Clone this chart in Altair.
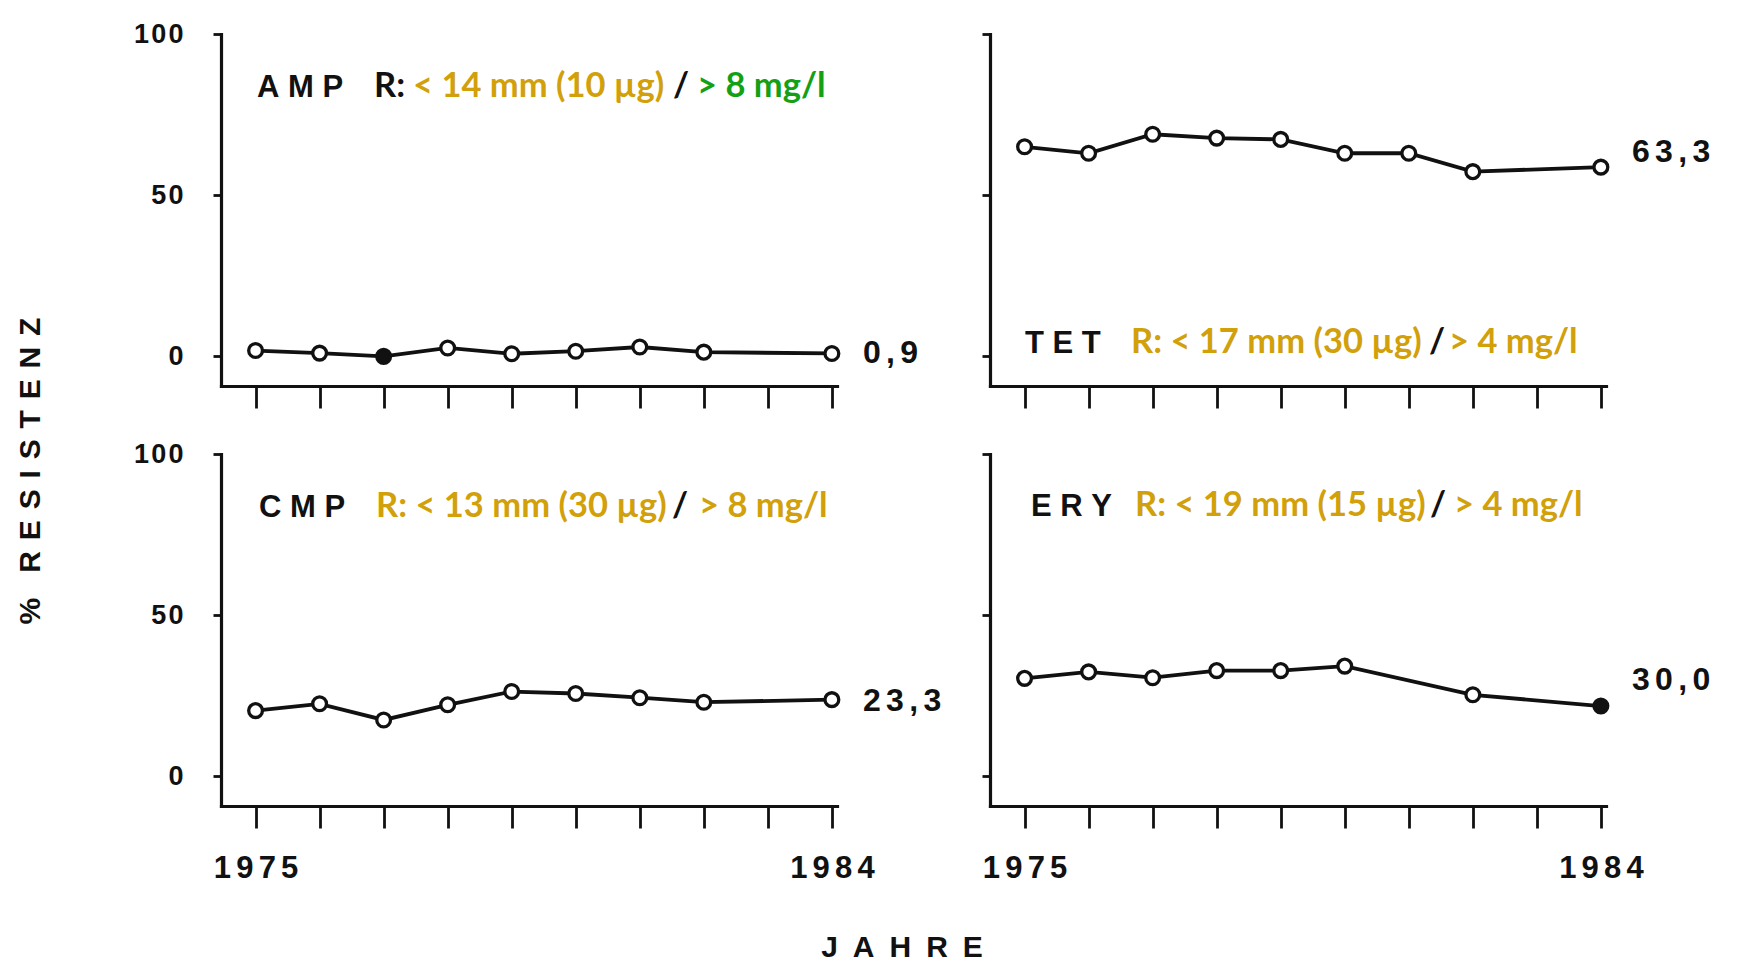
import altair as alt
import pandas as pd

# ---------------- data ----------------
years = [1975, 1976, 1977, 1978, 1979, 1980, 1981, 1982, 1983, 1984]
amp = [1.8, 1.0, 0.0, 2.6, 0.8, 1.6, 2.9, 1.3, None, 0.9]
tet = [65.0, 63.0, 68.9, 67.7, 67.3, 63.0, 63.0, 57.3, None, 58.7]
cmp_ = [20.4, 22.5, 17.5, 22.2, 26.3, 25.7, 24.4, 23.0, None, 23.8]
ery = [30.4, 32.4, 30.6, 32.8, 32.8, 34.2, None, 25.3, None, 21.8]

filled_years = {"AMP": [1977], "TET": [], "CMP": [], "ERY": [1984]}
end_values = {"AMP": 0.9, "TET": 63.3, "CMP": 23.3, "ERY": 30.0}
end_labels = {"AMP": "0,9", "TET": "63,3", "CMP": "23,3", "ERY": "30,0"}

y_ticks = [0, 50, 100]
x_tick_text = {1975: "1975", 1984: "1984"}

names = {"AMP": "AMP", "TET": "TET", "CMP": "CMP", "ERY": "ERY"}

GOLD = "#D1A00A"
GREEN = "#14A014"
BLACK = "#111111"

segments = {
    "AMP": [("R:", BLACK), ("< 14 mm (10 µg)", GOLD), ("/", BLACK), ("> 8 mg/l", GREEN)],
    "TET": [("R: < 17 mm (30 µg)", GOLD), ("/", BLACK), ("> 4 mg/l", GOLD)],
    "CMP": [("R: < 13 mm (30 µg)", GOLD), ("/", BLACK), ("> 8 mg/l", GOLD)],
    "ERY": [("R: < 19 mm (15 µg)", GOLD), ("/", BLACK), ("> 4 mg/l", GOLD)],
}

# layout (pixel offsets relative to each panel's plot origin)
layout = {
    "AMP": {"name_x": 36, "base_y": 63, "seg_x": [153, 192, 452, 476]},
    "TET": {"name_x": 35, "base_y": 319, "seg_x": [141, 439, 459]},
    "CMP": {"name_x": 38, "base_y": 63, "seg_x": [155, 451, 478]},
    "ERY": {"name_x": 41, "base_y": 62, "seg_x": [145, 440, 464]},
}

W, H = 616, 352
XDOM = [1974.46, 1984.08]
YDOM = [-9.2, 100]
NUM_FONT = "Liberation Sans"
ANN_FONT = "Lato"
HS = "\u200a"    # hair space
NB = "\u00a0"    # no-break space (not collapsed)


def spaced(s, sep):
    return sep.join(list(s))


label_expr = " : ".join(
    [f"datum.value == {k} ? '{spaced(v, HS + HS)}'" for k, v in x_tick_text.items()]
) + " : ''"


def panel(key, values, ylabels, xlabels, extra=None):
    df = pd.DataFrame({"year": years, "value": values})
    df = df.dropna().reset_index(drop=True)
    df["filled"] = df["year"].isin(filled_years[key])

    x = alt.X(
        "year:Q",
        scale=alt.Scale(domain=XDOM, nice=False, zero=False),
        axis=alt.Axis(
            values=years, title=None, grid=False,
            domainColor=BLACK, domainWidth=3.2, domainCap="square",
            tickColor=BLACK, tickWidth=2.8, tickSize=22,
            labels=xlabels, labelExpr=label_expr, labelFlush=False,
            labelFont=NUM_FONT, labelFontSize=31, labelFontWeight="bold",
            labelColor=BLACK, labelPadding=25, labelOverlap=False,
        ),
    )
    y = alt.Y(
        "value:Q",
        scale=alt.Scale(domain=YDOM, nice=False, zero=False),
        axis=alt.Axis(
            values=y_ticks, title=None, grid=False,
            domainColor=BLACK, domainWidth=3.2, domainCap="square",
            tickColor=BLACK, tickWidth=2.8, tickSize=8,
            labels=ylabels, labelFlush=False,
            labelExpr=f"join(split(datum.label, ''), '{HS}')",
            labelFont=NUM_FONT, labelFontSize=27, labelFontWeight="bold",
            labelColor=BLACK, labelPadding=30,
        ),
    )
    base = alt.Chart(df)
    line = base.mark_line(color=BLACK, strokeWidth=3.8).encode(x=x, y=y)
    pts = base.mark_point(shape="circle", size=190, strokeWidth=3.3, opacity=1,
                          filled=False, stroke=BLACK).encode(
        x=x, y=y,
        fill=alt.condition("datum.filled", alt.value(BLACK), alt.value("white")),
    )
    lab_df = pd.DataFrame({"year": [years[-1]], "value": [end_values[key]],
                           "txt": [spaced(end_labels[key], HS + HS)]})
    endlab = alt.Chart(lab_df).mark_text(
        align="left", baseline="middle", dx=31, font=NUM_FONT, fontSize=32,
        fontWeight="bold", color=BLACK,
    ).encode(x=x, y=y, text="txt:N")

    lay = layout[key]
    one = pd.DataFrame({"k": [0]})
    layers = [line, pts, endlab]
    layers.append(
        alt.Chart(one).mark_text(
            text=spaced(names[key], NB), align="left", baseline="alphabetic",
            font=NUM_FONT, fontSize=31, fontWeight="bold", color=BLACK,
        ).encode(x=alt.value(lay["name_x"]), y=alt.value(lay["base_y"]))
    )
    for (txt, col), sx in zip(segments[key], lay["seg_x"]):
        layers.append(
            alt.Chart(one).mark_text(
                text=txt, align="left", baseline="alphabetic",
                font=ANN_FONT, fontSize=34.5, fontWeight="bold", color=col,
            ).encode(x=alt.value(sx), y=alt.value(lay["base_y"]))
        )
    if extra:
        layers.extend(extra(one))
    return alt.layer(*layers).properties(width=W, height=H)


def tl_extra(one):
    gap = NB + HS
    return [
        alt.Chart(one).mark_text(
            text="%" + NB + NB + NB + spaced("RESISTENZ", gap),
            angle=270, align="center", baseline="middle",
            font=NUM_FONT, fontSize=30, fontWeight="bold", color=BLACK,
        ).encode(x=alt.value(-190), y=alt.value(437))
    ]


def bl_extra(one):
    return [
        alt.Chart(one).mark_text(
            text=spaced("JAHRE", "\u2002"), align="center", baseline="middle",
            font=NUM_FONT, fontSize=30, fontWeight="bold", color=BLACK,
        ).encode(x=alt.value(681), y=alt.value(494))
    ]


tl = panel("AMP", amp, True, False, tl_extra)
tr = panel("TET", tet, False, False)
bl = panel("CMP", cmp_, True, True, bl_extra)
br = panel("ERY", ery, False, True)

chart = alt.concat(
    tl, tr, bl, br, columns=2,
    spacing={"row": 68, "column": 153}, bounds="flush",
).properties(
    padding={"left": 8, "top": 12, "right": 5, "bottom": 5},
    background="white",
).configure_view(stroke=None)

chart.save("out.html", embed_options={"renderer": "svg", "actions": False})
